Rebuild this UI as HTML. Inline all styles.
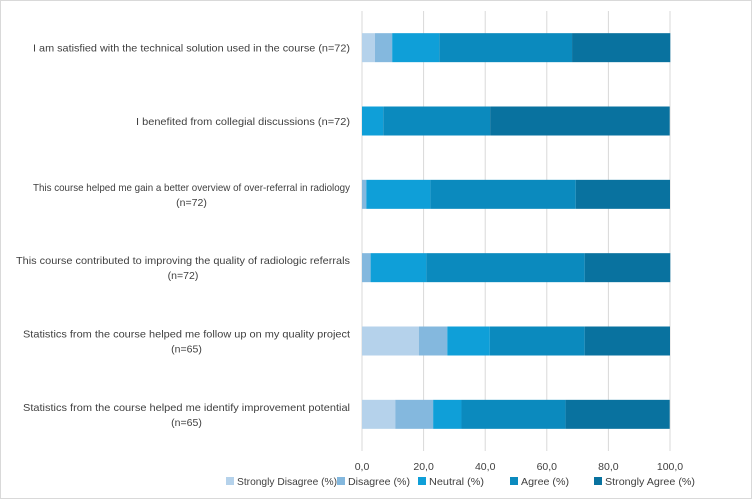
<!DOCTYPE html>
<html><head><meta charset="utf-8"><style>
body{margin:0;background:#fff;}
svg{display:block;font-family:"Liberation Sans",sans-serif;}
</style></head><body>
<svg id="chart" width="752" height="499">
<rect x="0.5" y="0.5" width="751" height="498" fill="#fff" stroke="#d9d9d9"/>
<g id="grid"></g><g id="bars"></g><g id="labels"></g><g id="ticks"></g><g id="legend"></g>
</svg>
<script>
const categories=[
 ["I am satisfied with the technical solution used in the course (n=72)"],
 ["I benefited from collegial discussions (n=72)"],
 ["This course helped me gain a better overview of over-referral in radiology","(n=72)"],
 ["This course contributed to improving the quality of radiologic referrals","(n=72)"],
 ["Statistics from the course helped me follow up on my quality project","(n=65)"],
 ["Statistics from the course helped me identify improvement potential","(n=65)"]
];
const seriesNames=["Strongly Disagree (%)","Disagree (%)","Neutral (%)","Agree (%)","Strongly Agree (%)"];
const stronglyDisagree=[4.2,0,0,0,18.5,10.8];
const disagree=[5.6,0,1.4,2.8,9.2,12.3];
const neutral=[15.3,6.9,20.8,18.1,13.8,9.2];
const agree=[43.1,34.7,47.2,51.4,30.8,33.8];
const stronglyAgree=[31.9,58.3,30.6,27.8,27.7,33.8];
const tickLabels=["0,0","20,0","40,0","60,0","80,0","100,0"];
const tickValues=[0,20,40,60,80,100];
const series=[stronglyDisagree,disagree,neutral,agree,stronglyAgree];
const colors=["#b5d2eb","#84b8de","#0f9fd8","#0b8abe","#09729f"];
const NS="http://www.w3.org/2000/svg";
const x0=362,x1=670,plotTop=11,plotBot=451,barH=29;
const xs=v=>x0+(x1-x0)*v/100;
const step=(plotBot-plotTop)/categories.length;
const yc=i=>plotTop+step*(i+0.5);
const labelW=[317,214,317,334,327,327];
function mk(t,a,p){const e=document.createElementNS(NS,t);for(const k in a)e.setAttribute(k,a[k]);p.appendChild(e);return e;}
const g=document.getElementById('grid'),b=document.getElementById('bars'),l=document.getElementById('labels'),tk=document.getElementById('ticks'),lg=document.getElementById('legend');
tickValues.forEach((v,i)=>{
 const ln=mk('line',{x1:xs(v),x2:xs(v),y1:plotTop,y2:plotBot,stroke:'#d9d9d9','stroke-width':1},g);
 
 
 const t=mk('text',{x:xs(v),y:470,'text-anchor':'middle','font-size':10.5,fill:'#404040'},tk);
 t.textContent=tickLabels[i];
 
 
});
categories.forEach((c,i)=>{
 let acc=0;
 series.forEach((s,j)=>{
  const v=s[i];
  if(v>0){const r=mk('rect',{x:xs(acc),y:yc(i)-barH/2,width:xs(acc+v)-xs(acc),height:barH,fill:colors[j]},b);
  
  }
  acc+=v;
 });
 const n=c.length;
 c.forEach((line,k)=>{
  const t=mk('text',{x:350,y:yc(i)+4+(k-(n-1)/2)*15,'text-anchor':'end','font-size':10.5,fill:'#404040'},l);
  t.textContent=line;
  if(k===0){t.setAttribute('textLength',labelW[i]);t.setAttribute('lengthAdjust','spacingAndGlyphs');}
  else{t.setAttribute('text-anchor','middle');t.setAttribute('x',350-labelW[i]/2);}
  
  
 });
});
const legX=[226,337,418,510,594];
const legW=[100,62,55,48,90];
seriesNames.forEach((nm,j)=>{
 const r=mk('rect',{x:legX[j],y:477,width:8,height:8,fill:colors[j]},lg);
 
 
 const t=mk('text',{x:legX[j]+11,y:485,'font-size':10.5,fill:'#404040',textLength:legW[j],lengthAdjust:'spacingAndGlyphs'},lg);
 t.textContent=nm;
 
 
});
</script>
</body></html>
